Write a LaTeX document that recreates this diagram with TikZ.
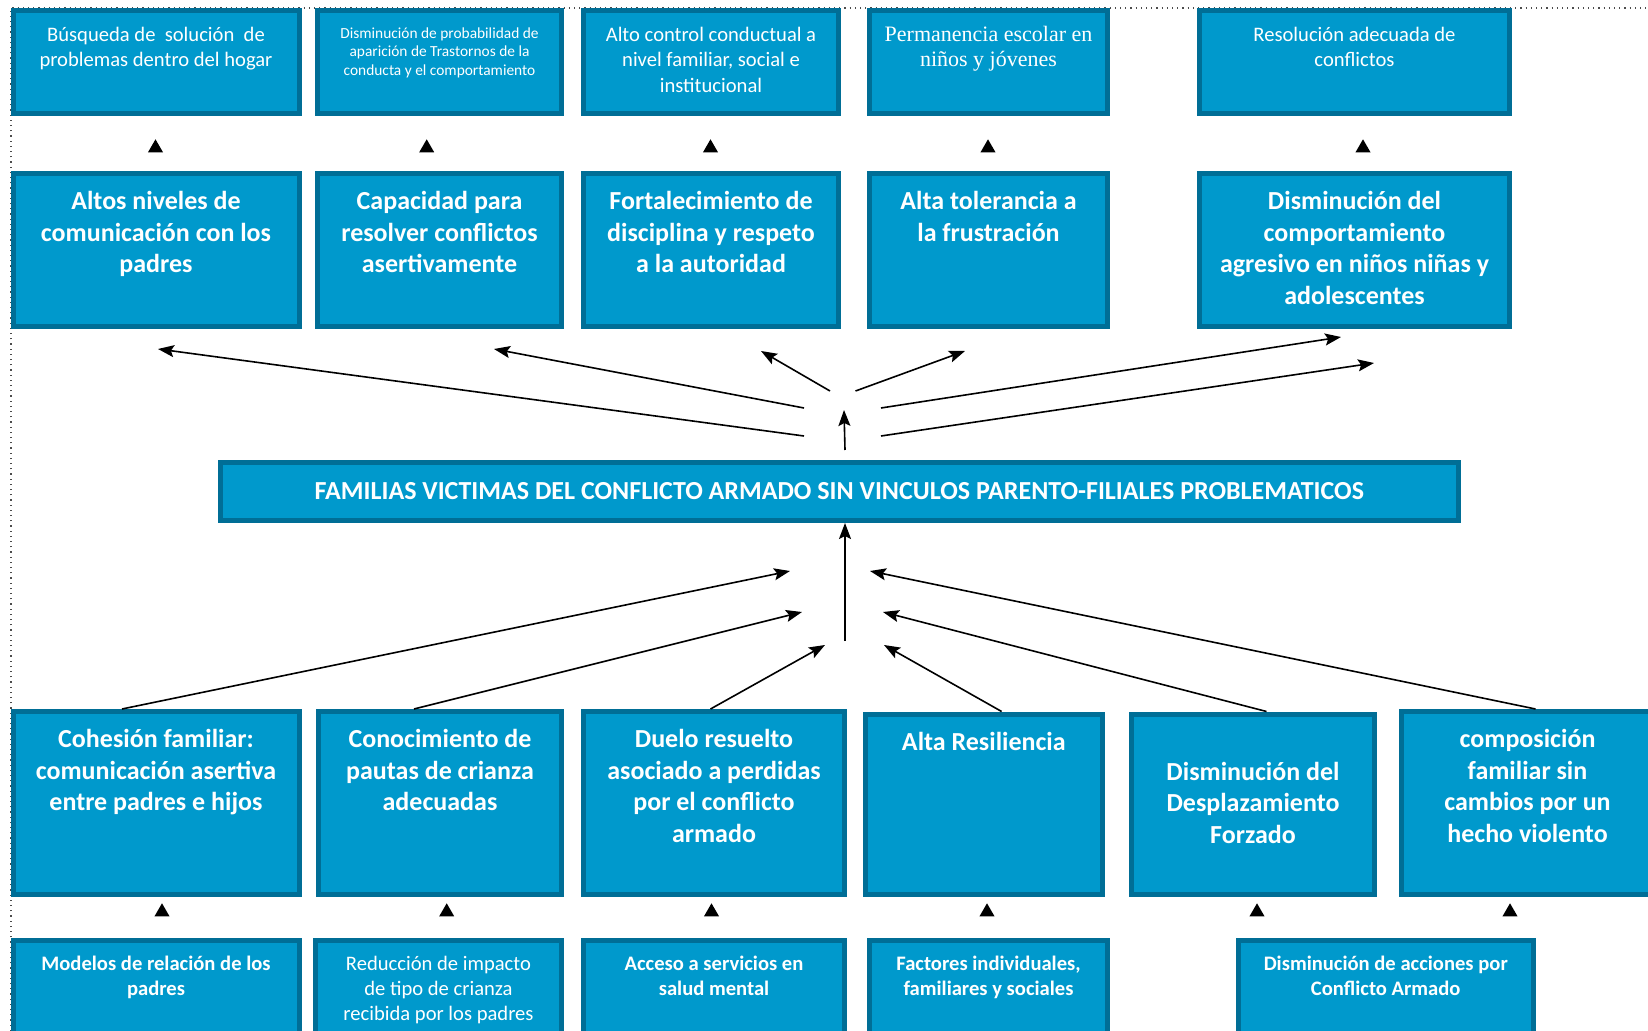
\documentclass[tikz,border=0pt]{standalone}
\usepackage{fontspec}
\setmainfont{Carlito}
\newfontfamily\serifrm{Liberation Serif}
\usetikzlibrary{positioning,shapes.geometric,arrows.meta}
\definecolor{boxfill}{RGB}{0,153,204}
\definecolor{boxline}{RGB}{0,110,150}
\tikzset{
  box/.style={draw=boxline, fill=boxfill, line width=2.5pt, anchor=north west, inner sep=0pt},
  box text/.style={text=white, align=center, inner sep=0pt},
  plain text/.style={box text, font=\fontsize{10.3}{12.6}\selectfont},
  tiny text/.style={box text, font=\fontsize{7.7}{9.4}\selectfont},
  times text/.style={box text, font=\serifrm\fontsize{11}{12.6}\selectfont},
  bold text/.style={box text, font=\bfseries\fontsize{13}{15.8}\selectfont},
  small bold text/.style={box text, font=\bfseries\fontsize{10.3}{12.6}\selectfont},
  tip mark/.style={regular polygon, regular polygon sides=3, fill=black, minimum size=8.7pt, inner sep=0pt},
  link/.style={-{Stealth[length=8pt,width=6pt,inset=1.5pt]}, line width=0.8pt},
}

\begin{document}
\begin{tikzpicture}[x=0.5pt, y=-0.5pt]
\useasboundingbox (0,0) rectangle (1648,1031);
\clip (0,0) rectangle (1648,1031);
% dotted frame
\draw[dotted, line width=0.6pt, gray!60!black] (11,1031) -- (11,8) -- (1648,8);

% the boxes, top row
\node[box, minimum width=143pt, minimum height=51.5pt] (finA) at (10.5,8) {};
\node[box, minimum width=122pt, minimum height=51.5pt] (finB) at (315,8) {};
\node[box, minimum width=127.5pt, minimum height=51.5pt] (finC) at (581,8) {};
\node[box, minimum width=119pt, minimum height=51.5pt] (finD) at (867,8) {};
\node[box, minimum width=155pt, minimum height=51.5pt] (finE) at (1197,8) {};
\node[plain text, below=9.5pt of finA.north] (finAt) {Búsqueda de \ solución \ de\\problemas dentro del hogar};
\node[tiny text, below=9.5pt of finB.north] (finBt) {Disminución de probabilidad de\\aparición de Trastornos de la\\conducta y el comportamiento};
\node[plain text, below=9.5pt of finC.north] (finCt) {Alto control conductual a\\nivel familiar, social e\\institucional};
\node[times text, below=9pt of finD.north] (finDt) {Permanencia escolar en\\niños y jóvenes};
\node[plain text, below=9.5pt of finE.north] (finEt) {Resolución adecuada de\\conflictos};

% effects
\node[box, minimum width=143pt, minimum height=76.5pt] (efA) at (10.5,171) {};
\node[box, minimum width=122pt, minimum height=76.5pt] (efB) at (315,171) {};
\node[box, minimum width=127.5pt, minimum height=76.5pt] (efC) at (581,171) {};
\node[box, minimum width=119pt, minimum height=76.5pt] (efD) at (867,171) {};
\node[box, minimum width=155pt, minimum height=76.5pt] (efE) at (1197,171) {};
\node[bold text, below=10pt of efA.north] (efAt) {Altos niveles de\\comunicación con los\\padres};
\node[bold text, below=10pt of efB.north] (efBt) {Capacidad para\\resolver conflictos\\asertivamente};
\node[bold text, below=10pt of efC.north] (efCt) {Fortalecimiento de\\disciplina y respeto\\a la autoridad};
\node[bold text, below=10pt of efD.north] (efDt) {Alta tolerancia a\\la frustración};
\node[bold text, below=10pt of efE.north] (efEt) {Disminución del\\comportamiento\\agresivo en niños niñas y\\adolescentes};

% central problem
\node[box, minimum width=619.2pt, minimum height=29pt] (mid) at (217.6,460) {};
\node[box text, font=\bfseries\fontsize{13}{15}\selectfont] (midt) at (mid.center) {FAMILIAS VICTIMAS DEL CONFLICTO ARMADO SIN VINCULOS PARENTO-FILIALES PROBLEMATICOS};

% means
\node[box, minimum width=143pt, minimum height=91.25pt] (medA) at (10.5,709) {};
\node[box, minimum width=121.5pt, minimum height=91.25pt] (medB) at (316,709) {};
\node[box, minimum width=130.5pt, minimum height=91.25pt] (medC) at (581,709) {};
\node[box, minimum width=118.3pt, minimum height=90pt] (medD) at (863,711.5) {};
\node[box, minimum width=121.5pt, minimum height=90pt] (medE) at (1129,711.5) {};
\node[box, minimum width=126pt, minimum height=91.25pt] (medF) at (1399,709) {};
\node[bold text, below=10pt of medA.north] (medAt) {Cohesión familiar:\\comunicación asertiva\\entre padres e hijos};
\node[bold text, below=10pt of medB.north] (medBt) {Conocimiento de\\pautas de crianza\\adecuadas};
\node[bold text, below=10pt of medC.north] (medCt) {Duelo resuelto\\asociado a perdidas\\por el conflicto\\armado};
\node[bold text, below=10pt of medD.north] (medDt) {Alta Resiliencia};
\node[bold text, below=25pt of medE.north] (medEt) {Disminución del\\Desplazamiento\\Forzado};
\node[bold text, below=10pt of medF.north] (medFt) {composición\\familiar sin\\cambios por un\\hecho violento};

% bottom row
\node[box, minimum width=143pt, minimum height=53.75pt] (baseA) at (10.5,937.5) {};
\node[box, minimum width=123pt, minimum height=53.75pt] (baseB) at (313,937.5) {};
\node[box, minimum width=130.5pt, minimum height=53.75pt] (baseC) at (581,937.5) {};
\node[box, minimum width=119pt, minimum height=53.75pt] (baseD) at (867,937.5) {};
\node[box, minimum width=147.25pt, minimum height=53.75pt] (baseE) at (1236,937.5) {};
\node[small bold text, below=9pt of baseA.north] (baseAt) {Modelos de relación de los\\padres};
\node[plain text, below=9pt of baseB.north] (baseBt) {Reducción de impacto\\de tipo de crianza\\recibida por los padres};
\node[small bold text, below=9pt of baseC.north] (baseCt) {Acceso a servicios en\\salud mental};
\node[small bold text, below=9pt of baseD.north] (baseDt) {Factores individuales,\\familiares y sociales};
\node[small bold text, below=9pt of baseE.north] (baseEt) {Disminución de acciones por\\Conflicto Armado};

% small triangles between rows
\foreach \tx/\ty [count=\i] in {155.5/148, 426.7/148, 710.5/148, 988/148, 1363/148,
  162/912, 446.7/912, 711.5/912, 987/912, 1257/912, 1510/912}
  \node[tip mark] (tip\i) at (\tx,\ty) {};

% free ends of the arrows
\coordinate (upA) at (804,436);
\coordinate (upB) at (804,408);
\coordinate (upC) at (830,391);
\coordinate (upD) at (855.5,391);
\coordinate (upE) at (881,408);
\coordinate (upF) at (881,436);
\coordinate (upO) at (845,450);
\coordinate (upOh) at (844,410);
\coordinate (hdA) at (158,349);
\coordinate (hdB) at (494,349);
\coordinate (hdC) at (761,351);
\coordinate (hdD) at (965,351);
\coordinate (hdE) at (1341,337);
\coordinate (hdF) at (1374,363);
\coordinate (inA) at (790,571);
\coordinate (inB) at (802,612);
\coordinate (inC) at (825,645);
\coordinate (inD) at (884,645);
\coordinate (inE) at (883,612);
\coordinate (inF) at (870,571);
\coordinate (inO) at (845,641);

%drawings of arrows
\draw[link] (upA) -- (hdA);
\draw[link] (upB) -- (hdB);
\draw[link] (upC) -- (hdC);
\draw[link] (upD) -- (hdD);
\draw[link] (upE) -- (hdE);
\draw[link] (upF) -- (hdF);
\draw[link] (upO) -- (upOh);

\draw[link] (inO) -- (inO |- mid.south);
\draw[link] ([xshift=-17pt]medA.north) -- (inA);
\draw[link] ([xshift=-13pt]medB.north) -- (inB);
\draw[link] ([xshift=-1.75pt]medC.north) -- (inC);
\draw[link] ([xshift=8.9pt]medD.north) -- (inD);
\draw[link] ([xshift=6.75pt]medE.north) -- (inE);
\draw[link] ([xshift=4pt]medF.north) -- (inF);
\end{tikzpicture}
\end{document}
